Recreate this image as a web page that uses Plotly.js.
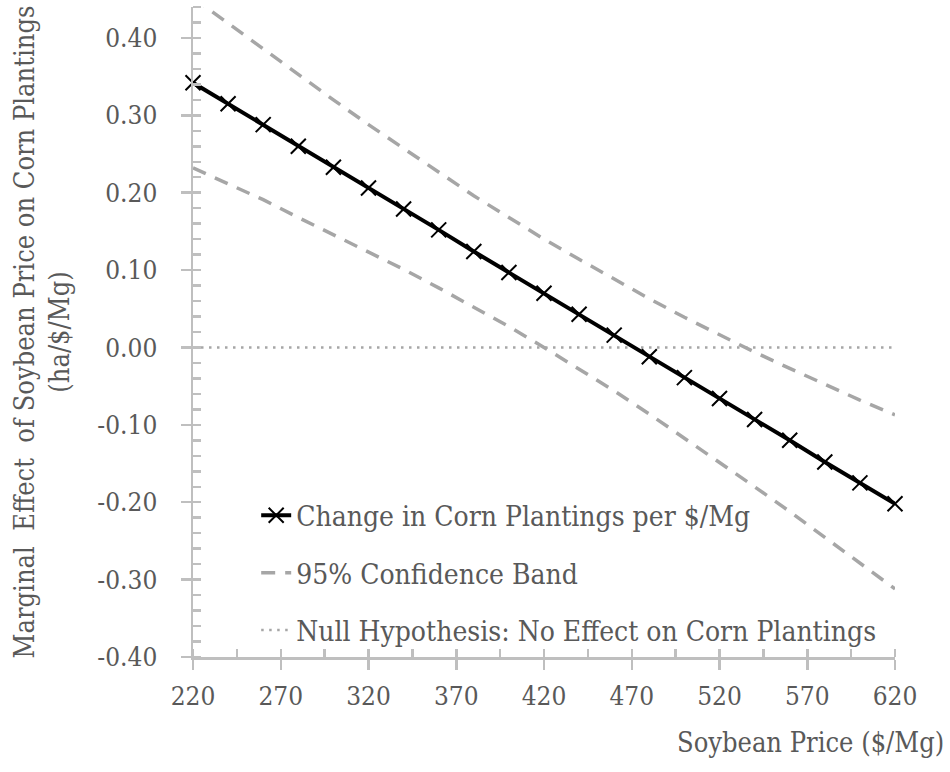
<!DOCTYPE html>
<html>
<head>
<meta charset="utf-8">
<script src="https://cdn.plot.ly/plotly-3.0.1.min.js"></script>
<style>html,body{margin:0;padding:0;background:#fff;}#chart{width:950px;height:772px;}</style>
</head>
<body>
<div id="chart"></div>
<script>
// Soybean price ($/Mg)
const price = [220,240,260,280,300,320,340,360,380,400,420,440,460,480,500,520,540,560,580,600,620];
// Marginal effect (ha/$/Mg)
const effect = [0.342,0.315,0.288,0.260,0.233,0.206,0.179,0.152,0.124,0.097,0.070,0.043,0.016,-0.012,-0.039,-0.066,-0.093,-0.120,-0.148,-0.175,-0.202];
// 95% confidence band
const upperBand = [0.452,0.419,0.386,0.352,0.320,0.288,0.257,0.226,0.196,0.168,0.140,0.114,0.088,0.063,0.039,0.016,-0.006,-0.027,-0.048,-0.068,-0.087];
const lowerBand = [0.232,0.211,0.191,0.168,0.146,0.124,0.101,0.077,0.052,0.027,0.000,-0.028,-0.056,-0.086,-0.117,-0.148,-0.180,-0.212,-0.245,-0.279,-0.312];
// Null hypothesis
const nullX = [220,620];
const nullY = [0,0];

const xTicks = [220,270,320,370,420,470,520,570,620];
const yTicks = [-0.4,-0.3,-0.2,-0.1,0,0.1,0.2,0.3,0.4];

const FONT = 'DejaVu Serif Condensed';
const TXT = '#595959';
const AX = '#BFBFBF';
const BAND = '#A6A6A6';

const traces = [
  {x: nullX, y: nullY, mode:'lines', name:'Null Hypothesis: No Effect on Corn Plantings',
   legendgroup:'c', legendrank:3,
   line:{color:BAND, width:2.5, dash:'2.5px,5.5px'}},
  {x: price, y: upperBand, mode:'lines', name:'95% Confidence Band', legendgroup:'b', legendrank:2,
   line:{color:BAND, width:3.5, dash:'14px,10px'}},
  {x: price, y: lowerBand, mode:'lines', name:'95% Confidence Band', legendgroup:'b', showlegend:false,
   line:{color:BAND, width:3.5, dash:'14px,10px'}},
  {x: price, y: effect, mode:'lines+markers', name:'Change in Corn Plantings per $/Mg', legendgroup:'a', legendrank:1,
   cliponaxis:false,
   line:{color:'#000', width:4},
   marker:{symbol:'x-thin', size:15, color:'#000', line:{color:'#000', width:2}}}
];

const layout = {
  width:950, height:772,
  margin:{l:193, r:55, t:7, b:115},
  paper_bgcolor:'#fff', plot_bgcolor:'#fff',
  font:{family:FONT, size:27, color:TXT},
  showlegend:true,
  legend:{x:0.09, y:0.256, xanchor:'left', yanchor:'top', bgcolor:'rgba(0,0,0,0)',
          font:{family:FONT, size:28, color:TXT}, traceorder:'grouped', tracegroupgap:18},
  xaxis:{range:[220,620], tickmode:'array', tickvals:xTicks, ticktext:xTicks.map(String), tickangle:0,
         showgrid:false, zeroline:false, showline:true, linecolor:AX, linewidth:2.5,
         ticks:'outside', ticklen:10, tickwidth:2.5, tickcolor:AX, ticklabelstandoff:4,
         minor:{dtick:25, tick0:220, ticks:'inside', ticklen:8, tickwidth:2.5, tickcolor:AX, showgrid:false},
         tickfont:{family:FONT, size:26, color:TXT}},
  yaxis:{range:[-0.40,0.44], tickmode:'array', tickvals:yTicks, ticktext:yTicks.map(v=>v.toFixed(2)),
         showgrid:false, zeroline:false, showline:true, linecolor:AX, linewidth:2.5,
         ticks:'outside', ticklen:10, tickwidth:2.5, tickcolor:AX, ticklabelstandoff:18,
         minor:{dtick:0.02, tick0:0, ticks:'inside', ticklen:8, tickwidth:2.5, tickcolor:AX, showgrid:false},
         tickfont:{family:FONT, size:26, color:TXT},
         title:{text:'Marginal  Effect  of Soybean Price on Corn Plantings<br>(ha/$/Mg)', standoff:20,
                font:{family:FONT, size:27, color:TXT}}},
  xaxis2:{overlaying:'x', range:[220,620], tickmode:'array', tickvals:xTicks, showticklabels:false,
          showgrid:false, zeroline:false, showline:false, ticks:'inside', ticklen:8, tickwidth:2.5, tickcolor:AX},
  yaxis2:{overlaying:'y', range:[-0.40,0.44], tickmode:'array', tickvals:yTicks, showticklabels:false,
          showgrid:false, zeroline:false, showline:false, ticks:'inside', ticklen:8, tickwidth:2.5, tickcolor:AX},
  annotations:[{text:'Soybean Price ($/Mg)', xref:'paper', yref:'paper', x:1.072, y:-0.131,
                xanchor:'right', yanchor:'middle', showarrow:false,
                font:{family:FONT, size:27, color:TXT}}]
};

Plotly.newPlot('chart', traces, layout, {displayModeBar:false, staticPlot:true});
</script>
</body>
</html>
